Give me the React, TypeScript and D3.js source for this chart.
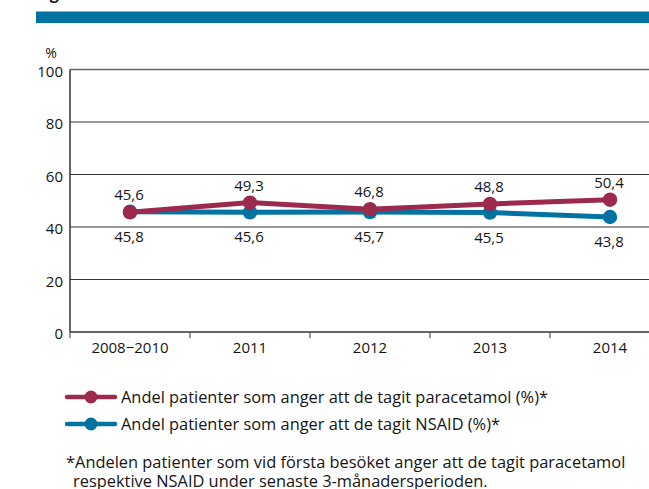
import React, { useEffect, useRef } from 'react';
import * as d3 from 'd3';

// data
const categories = ['2008−2010', '2011', '2012', '2013', '2014'];
const paracetamol = [45.6, 49.3, 46.8, 48.8, 50.4];
const nsaid = [45.8, 45.6, 45.7, 45.5, 43.8];
const yTicks = [0, 20, 40, 60, 80, 100];
const legendLabels = [
  'Andel patienter som anger att de tagit paracetamol (%)*',
  'Andel patienter som anger att de tagit NSAID (%)*',
];
const footnote = [
  '*Andelen patienter som vid första besöket anger att de tagit paracetamol',
  'respektive NSAID under senaste 3-månadersperioden.',
];

const RED = '#9c2a4c';
const BLUE = '#0073a3';
const INK = '#151515';
const FONT = '"Open Sans", "Noto Sans", sans-serif';

const App: React.FC = () => {
  const svgRef = useRef<SVGSVGElement | null>(null);

  useEffect(() => {
    if (!svgRef.current) return;
    const svg = d3.select(svgRef.current);
    svg.selectAll('*').remove();

    const width = 649;
    const left = 70;
    const top = 69.5;
    const bottom = 332;
    const right = 670; // plot runs past the right edge in the original

    // header bar and the clipped title above it
    svg.append('rect').attr('x', 36).attr('y', 11.5).attr('width', width - 36).attr('height', 11.5).attr('fill', BLUE);
    svg.append('text').attr('x', 36).attr('y', -1).text('Figur')
      .attr('font-family', FONT).attr('font-weight', 'bold').attr('font-size', 16).attr('fill', INK);

    const x = d3.scaleBand().domain(categories).range([left, right]);
    const y = d3.scaleLinear().domain([0, 100]).range([bottom, top]);

    const chart = svg.append('g').attr('font-family', FONT).attr('font-weight', 500).attr('fill', INK);

    // grid lines
    chart.selectAll('.grid').data(yTicks.filter(d => d > 0)).enter().append('line')
      .attr('x1', left).attr('x2', width)
      .attr('y1', d => y(d)).attr('y2', d => y(d))
      .attr('stroke', d => d === 100 ? '#666' : '#333').attr('stroke-width', d => d === 100 ? 1.5 : 1.2);

    // axes
    chart.append('line').attr('x1', left).attr('x2', left).attr('y1', top).attr('y2', bottom)
      .attr('stroke', '#333').attr('stroke-width', 1.5);
    chart.append('line').attr('x1', left).attr('x2', width).attr('y1', bottom).attr('y2', bottom)
      .attr('stroke', '#333').attr('stroke-width', 1.5);

    // x ticks at band boundaries
    chart.selectAll('.xtick').data(categories).enter().append('line')
      .attr('x1', d => x(d)!).attr('x2', d => x(d)!)
      .attr('y1', bottom).attr('y2', bottom + 6)
      .attr('stroke', '#555').attr('stroke-width', 1.2);

    chart.selectAll('.xlabel').data(categories).enter().append('text')
      .attr('x', d => x(d)! + x.bandwidth() / 2).attr('y', bottom + 21)
      .attr('text-anchor', 'middle').attr('font-size', 15)
      .text(d => d);

    chart.selectAll('.ylabel').data(yTicks).enter().append('text')
      .attr('x', left - 7).attr('y', d => y(d) + 7)
      .attr('text-anchor', 'end').attr('font-size', 15)
      .text(d => d);

    chart.append('text').attr('x', 51).attr('y', 58).attr('text-anchor', 'middle')
      .attr('font-size', 14).text('%');

    const cx = (i: number) => x(categories[i])! + x.bandwidth() / 2;
    const line = d3.line<number>().x((_, i) => cx(i)).y(d => y(d));

    const series = [
      { values: nsaid, color: BLUE, above: false },
      { values: paracetamol, color: RED, above: true },
    ];

    series.forEach(s => {
      chart.append('path').datum(s.values).attr('d', line)
        .attr('fill', 'none').attr('stroke', s.color).attr('stroke-width', 5);
      chart.selectAll(null).data(s.values).enter().append('circle')
        .attr('cx', (_, i) => cx(i)).attr('cy', d => y(d)).attr('r', 7.2).attr('fill', s.color);
    });

    series.forEach(s => {
      chart.selectAll(null).data(s.values).enter().append('text')
        .attr('x', (_, i) => cx(i) - 1)
        .attr('y', d => s.above ? y(d) - 12 : y(d) + 30)
        .attr('text-anchor', 'middle').attr('font-size', 15)
        .text(d => d.toFixed(1).replace('.', ','));
    });

    // legend
    const legend = svg.append('g').attr('font-family', FONT).attr('font-weight', 500).attr('fill', INK);
    legendLabels.forEach((label, i) => {
      const ly = 397 + i * 27;
      const c = i === 0 ? RED : BLUE;
      legend.append('line').attr('x1', 67).attr('x2', 115).attr('y1', ly).attr('y2', ly)
        .attr('stroke', c).attr('stroke-width', 4.5).attr('stroke-linecap', 'round');
      legend.append('circle').attr('cx', 91).attr('cy', ly).attr('r', 6.5).attr('fill', c);
      legend.append('text').attr('x', 121).attr('y', ly + 6)
        .attr('font-size', 16.4).text(label);
    });

    const notes = svg.append('g').attr('font-family', FONT).attr('font-weight', 500).attr('fill', INK);
    footnote.forEach((t, i) => {
      notes.append('text').attr('x', i === 0 ? 66 : 73).attr('y', 468 + i * 18.5)
        .attr('font-size', 16.4).text(t);
    });
  }, []);

  return (
    <svg ref={svgRef} width={649} height={489}
      style={{ position: 'absolute', left: 0, top: 0, background: '#fff' }} />
  );
};

export default App;
